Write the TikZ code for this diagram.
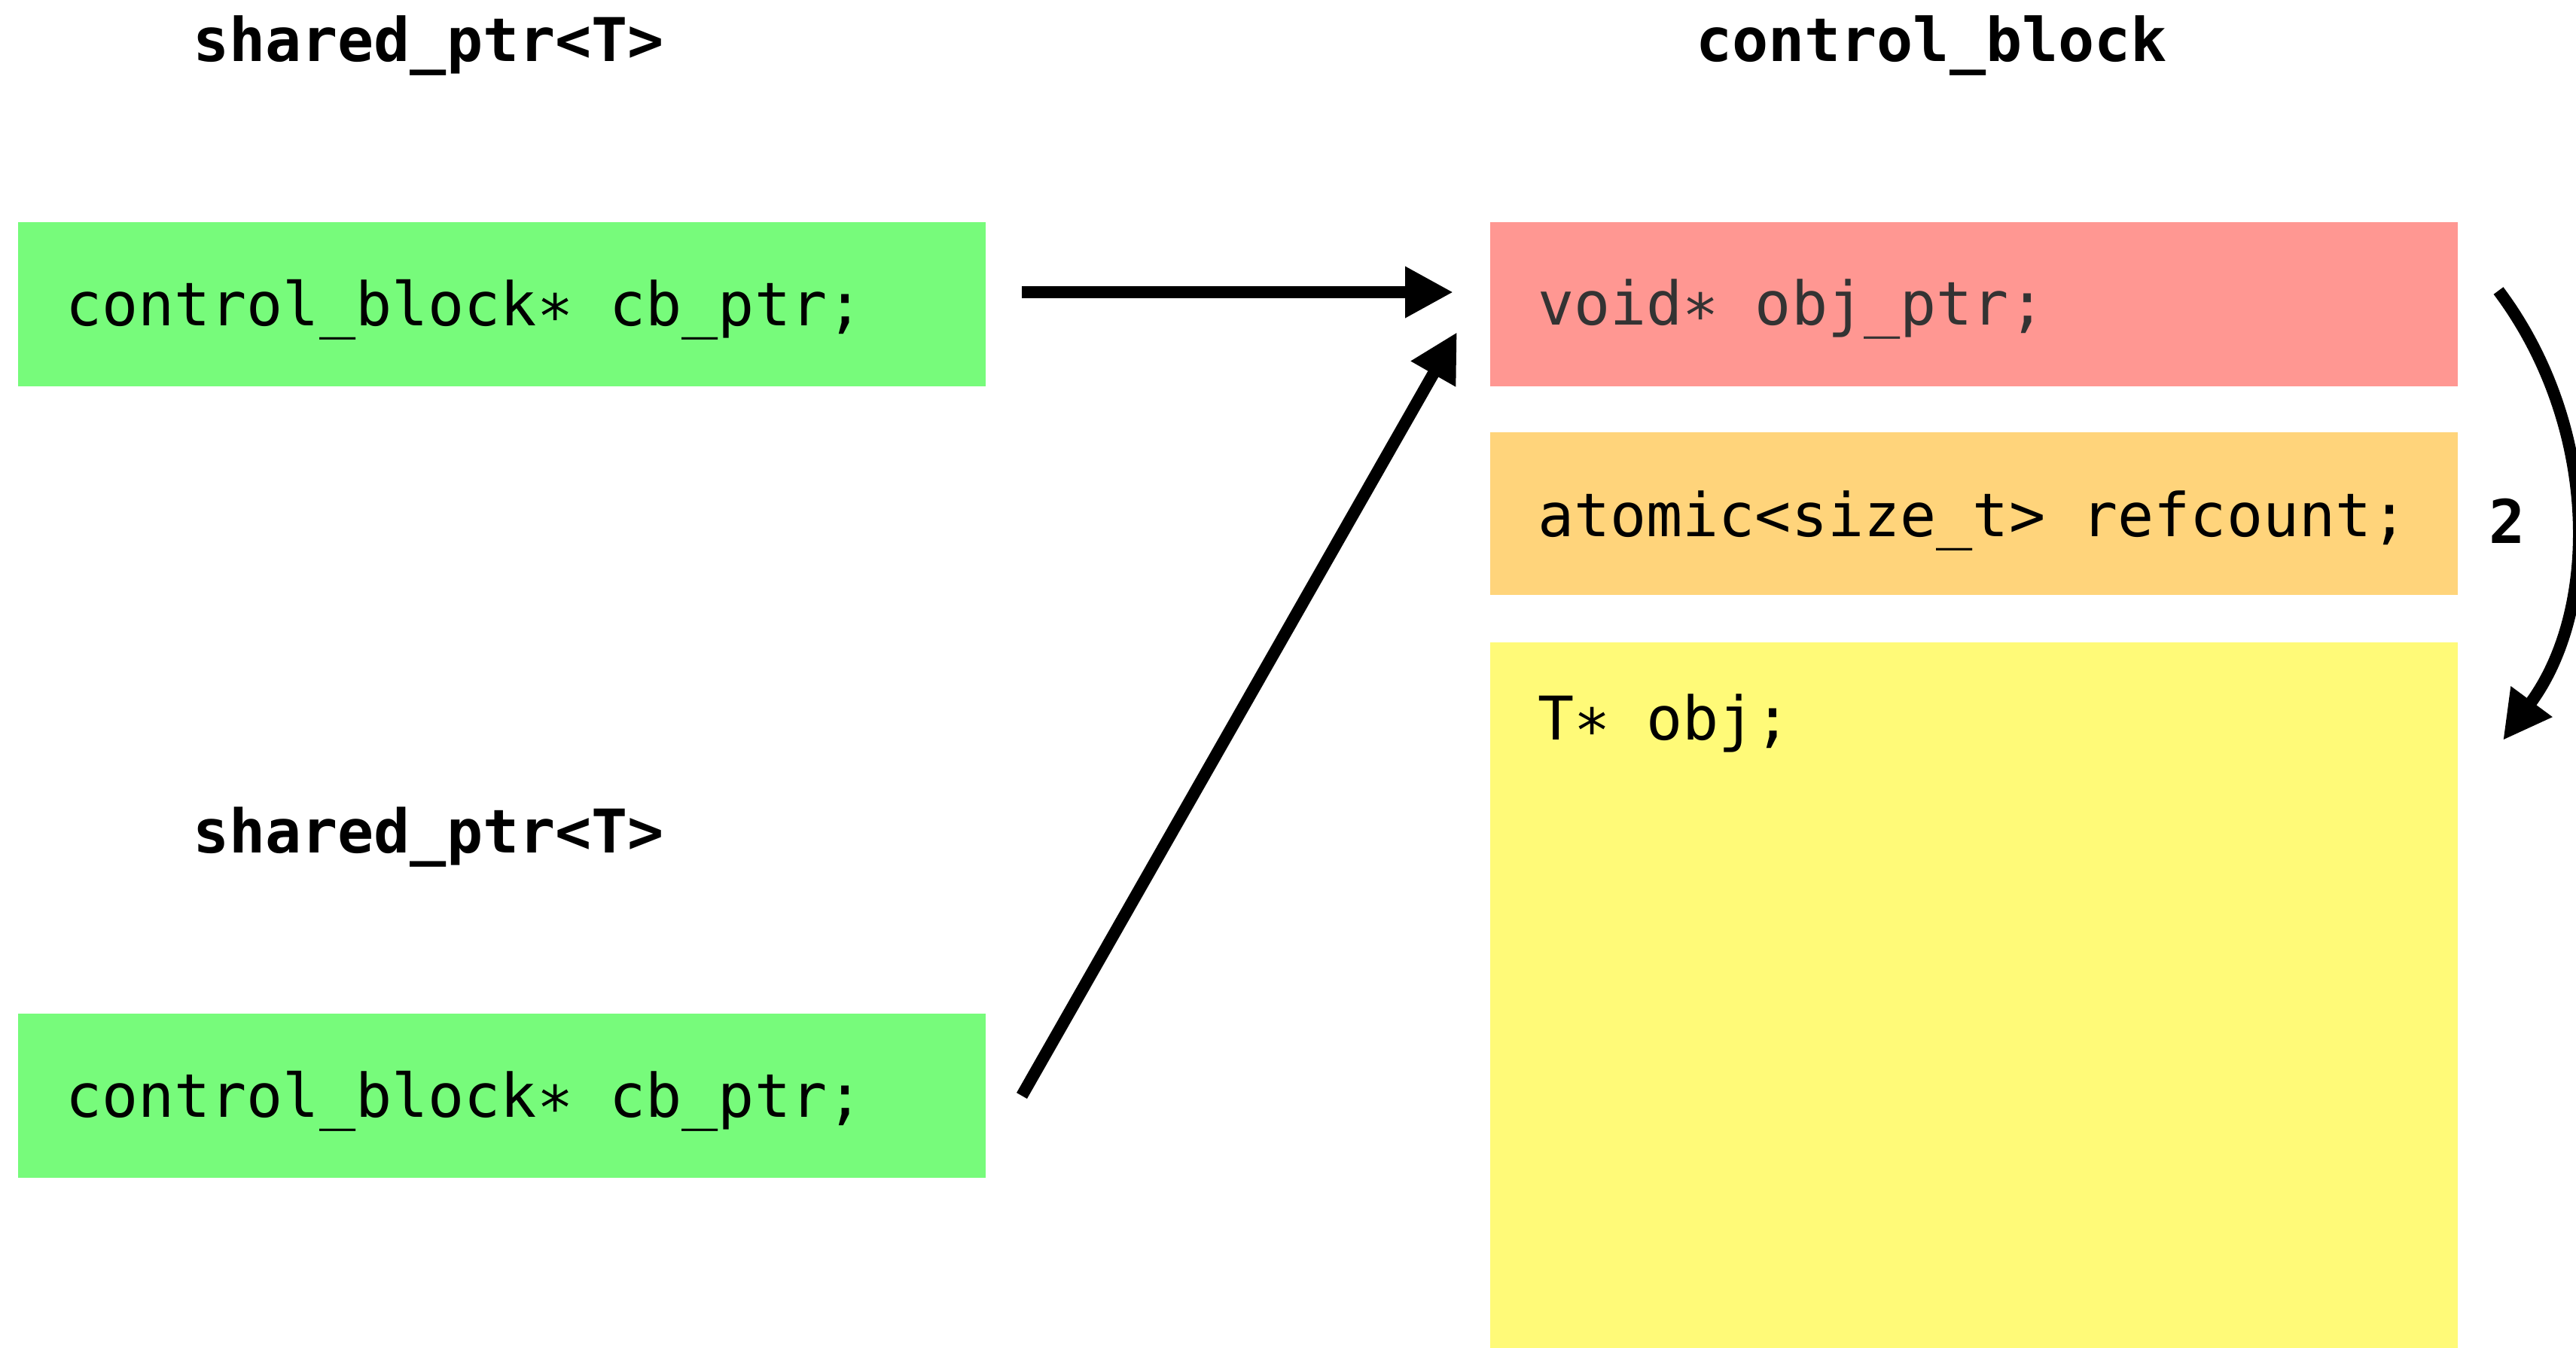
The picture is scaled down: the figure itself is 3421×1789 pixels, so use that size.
\documentclass[tikz,border=0pt]{standalone}
\usepackage{fontspec}
\setmonofont{DejaVu Sans Mono}
\usetikzlibrary{arrows.meta,calc}
\definecolor{cgreen}{HTML}{77FB7B}
\definecolor{cred}{HTML}{FF9792}
\definecolor{corange}{HTML}{FFD47B}
\definecolor{cyellow}{HTML}{FFFA78}
\definecolor{cgray}{HTML}{333333}
\begin{document}
\begin{tikzpicture}[x=1pt,y=-1pt,
  box/.style={draw=none, inner sep=0pt, outer sep=0pt, anchor=north west, minimum width=1285pt},
  code/.style={font=\fontsize{80pt}{96pt}\selectfont\ttfamily, inner sep=0pt, outer sep=0pt, anchor=base west},
  title/.style={font=\fontsize{80pt}{96pt}\selectfont\ttfamily\bfseries, inner sep=0pt, outer sep=0pt, anchor=base west},
  arr/.style={line width=16pt, -{Triangle[length=64pt,width=64pt]}}]
\useasboundingbox (0,0) rectangle (3421,1789);
% titles
\node[title] (h1) at (256,81) {shared\_ptr<T>};
\node[title] (h2) at (2252,81) {control\_block};
\node[title] (h3) at (256,1132) {shared\_ptr<T>};
% boxes
\node[box, fill=cgreen, minimum height=218pt] (g1) at (24,295) {};
\node[box, fill=cgreen, minimum height=218pt] (g2) at (24,1346) {};
\node[box, fill=cred, minimum height=218pt] (r1) at (1979,295) {};
\node[box, fill=corange, minimum height=216pt] (o1) at (1979,574) {};
\node[box, fill=cyellow, minimum height=940pt] (y1) at (1979,853) {};
% texts
\node[code] (tg1) at (87,432) {control\_block∗ cb\_ptr;};
\node[code] (tg2) at (87,1483) {control\_block∗ cb\_ptr;};
\node[code, text=cgray] (tr1) at (2042,431) {void∗ obj\_ptr;};
\node[code] (to1) at (2042,712) {atomic<size\_t> refcount;};
\node[code] (ty1) at (2042,982) {T∗ obj;};
\node[title] (n2) at (3305,721) {2};
% arrow end points
\coordinate (a1s) at (1357,388);
\coordinate (a1e) at (1930,388);
\coordinate (a2s) at (1357,1455);
\coordinate (a2e) at (1935,441);
\coordinate (a3s) at (3318,386);
\coordinate (a3e) at (3324,983);
% arrows
\draw[arr] (a1s) -- (a1e);
\draw[arr] (a2s) -- (a2e);
\draw[arr] (a3s) .. controls (3450,562) and (3455,806) .. (a3e);
\end{tikzpicture}
\end{document}
